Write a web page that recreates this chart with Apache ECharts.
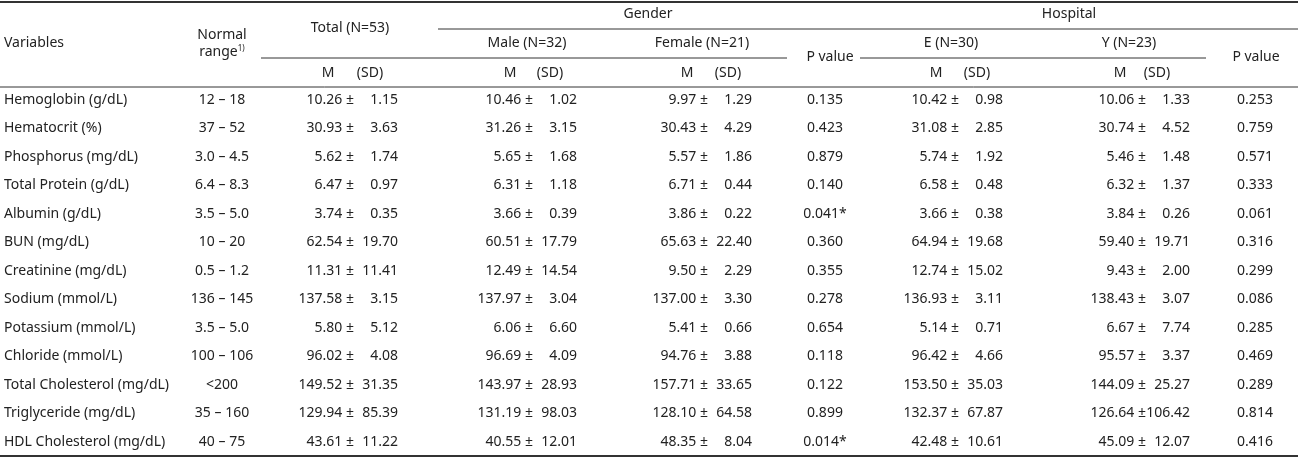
<!DOCTYPE html>
<html><head><meta charset="utf-8">
<script src="https://cdn.jsdelivr.net/npm/echarts@6/dist/echarts.min.js"></script>
<style>html,body{margin:0;padding:0;background:#fff}#c{width:1298px;height:459px}</style>
</head><body><div id="c"></div>
<script>
const variables=["Hemoglobin (g/dL)","Hematocrit (%)","Phosphorus (mg/dL)","Total Protein (g/dL)","Albumin (g/dL)","BUN (mg/dL)","Creatinine (mg/dL)","Sodium (mmol/L)","Potassium (mmol/L)","Chloride (mmol/L)","Total Cholesterol (mg/dL)","Triglyceride (mg/dL)","HDL Cholesterol (mg/dL)"];
const normalRange=["12 – 18","37 – 52","3.0 – 4.5","6.4 – 8.3","3.5 – 5.0","10 – 20","0.5 – 1.2","136 – 145","3.5 – 5.0","100 – 106","<200","35 – 160","40 – 75"];
const totalM=["10.26","30.93","5.62","6.47","3.74","62.54","11.31","137.58","5.80","96.02","149.52","129.94","43.61"];
const totalSD=["1.15","3.63","1.74","0.97","0.35","19.70","11.41","3.15","5.12","4.08","31.35","85.39","11.22"];
const maleM=["10.46","31.26","5.65","6.31","3.66","60.51","12.49","137.97","6.06","96.69","143.97","131.19","40.55"];
const maleSD=["1.02","3.15","1.68","1.18","0.39","17.79","14.54","3.04","6.60","4.09","28.93","98.03","12.01"];
const femaleM=["9.97","30.43","5.57","6.71","3.86","65.63","9.50","137.00","5.41","94.76","157.71","128.10","48.35"];
const femaleSD=["1.29","4.29","1.86","0.44","0.22","22.40","2.29","3.30","0.66","3.88","33.65","64.58","8.04"];
const pGender=["0.135","0.423","0.879","0.140","0.041*","0.360","0.355","0.278","0.654","0.118","0.122","0.899","0.014*"];
const eM=["10.42","31.08","5.74","6.58","3.66","64.94","12.74","136.93","5.14","96.42","153.50","132.37","42.48"];
const eSD=["0.98","2.85","1.92","0.48","0.38","19.68","15.02","3.11","0.71","4.66","35.03","67.87","10.61"];
const yM=["10.06","30.74","5.46","6.32","3.84","59.40","9.43","138.43","6.67","95.57","144.09","126.64","45.09"];
const ySD=["1.33","4.52","1.48","1.37","0.26","19.71","2.00","3.07","7.74","3.37","25.27","106.42","12.07"];
const pHospital=["0.253","0.759","0.571","0.333","0.061","0.316","0.299","0.086","0.285","0.469","0.289","0.814","0.416"];

const F='14px "Noto Sans", sans-serif', C='#222';
const els=[];
function t(x,y,s,align){els.push({type:'text',x:x,y:y,style:{text:s,font:F,fill:C,textAlign:align||'center',textVerticalAlign:'middle'}});}
function ln(x1,x2,y,w){els.push({type:'line',shape:{x1:x1,y1:y,x2:x2,y2:y},style:{stroke:'#333',lineWidth:w||1}});}
ln(0,1298,2,2);ln(438,1298,29);ln(261,787,58);ln(860,1206,58);ln(0,1298,87);ln(0,1298,456,2);
t(4,43,'Variables','left');t(222,35,'Normal');
els.push({type:'text',x:222,y:52,style:{rich:{a:{font:F,fill:C},s:{font:'8px "Noto Sans"',fill:C,verticalAlign:'top'}},text:'{a|range}{s|1)}',textAlign:'center',textVerticalAlign:'middle'}});
t(350,28,'Total (N=53)');t(648,14,'Gender');t(1069,14,'Hospital');
t(527,43,'Male (N=32)');t(702,43,'Female (N=21)');t(830,57,'P value');t(951,43,'E (N=30)');t(1129,43,'Y (N=23)');t(1256,57,'P value');
const groups=[[totalM,totalSD,398,328,370],[maleM,maleSD,577,510,550],[femaleM,femaleSD,752,687,728],[eM,eSD,1003,936,977],[yM,ySD,1190,1120,1157]];
groups.forEach(g=>{t(g[3],73,'M');t(g[4],73,'(SD)');});
variables.forEach((v,i)=>{
  const y=100+i*28.5;
  t(4,y,v,'left');t(222,y,normalRange[i]);
  groups.forEach(g=>{t(g[2]-44,y,g[0][i]+' ±','right');t(g[2],y,g[1][i],'right');});
  t(825,y,pGender[i]);t(1255,y,pHospital[i]);
});
const chart=echarts.init(document.getElementById('c'));
chart.setOption({animation:false,graphic:{elements:els}});
</script></body></html>
